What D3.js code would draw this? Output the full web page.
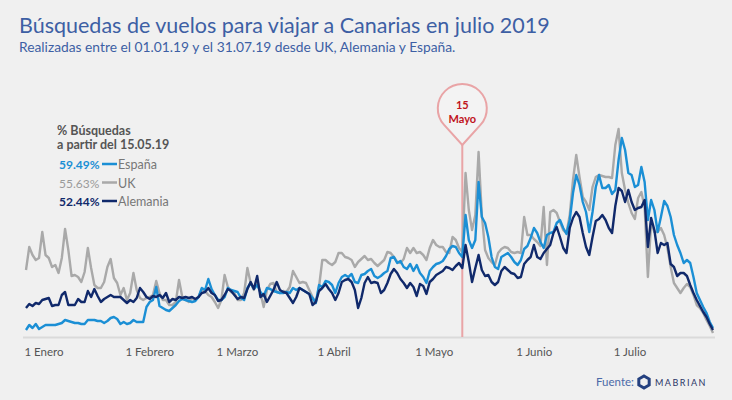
<!DOCTYPE html>
<html><head><meta charset="utf-8">
<script src="https://cdn.jsdelivr.net/npm/d3@7"></script>
<style>
html,body{margin:0;padding:0;background:#f0f0f0;}
svg{display:block;font-family:Lato, "Open Sans", sans-serif;}
</style></head><body>
<svg id="chart" width="732" height="400"></svg>
<script>
// ---------- DATA ----------
const startDate = "2019-01-01";
const endDate = "2019-07-31";
const monthTicks = ["2019-01-01","2019-02-01","2019-03-01","2019-04-01","2019-05-01","2019-06-01","2019-07-01"];
const monthLabels = ["1 Enero","1 Febrero","1 Marzo","1 Abril","1 Mayo","1 Junio","1 Julio"];

// Daily search index, 1 Jan – 31 Jul 2019
const uk = [
 67,90,82,77,79,105,82,79,70,72,
 64,79,108,87,61,62,60,55,65,89,
 69,52,49,49,55,70,78,59,54,42,
 49,37,44,64,47,39,37,39,40,42,
 56,44,37,37,32,32,35,57,40,37,
 35,39,37,40,48,46,42,40,35,29,
 37,62,50,45,44,37,37,44,69,54,
 47,57,44,30,47,53,54,45,44,46,
 45,50,66,60,54,55,54,47,40,34,
 50,77,77,74,72,75,84,84,80,79,
 77,70,75,78,81,77,78,74,71,74,
 77,85,84,80,75,74,78,89,84,89,
 84,85,82,77,89,97,92,90,90,85,
 84,100,97,89,85,164,127,107,122,185,
 122,87,79,75,72,84,88,90,89,85,
 84,85,84,120,102,102,98,95,91,130,
 72,125,127,124,115,107,104,122,157,182,
 160,140,135,127,150,160,162,161,160,160,
 159,192,208,164,147,134,124,118,139,145,
 130,60,114,105,105,109,102,89,70,54,
 49,44,49,53,50,42,32,29,24,17,11,4
];
const espana = [
 7,12,9,13,8,10,12,12,12,12,
 13,14,17,16,15,14,14,13,13,17,
 17,17,16,16,14,16,19,20,18,13,
 15,13,14,17,15,15,15,30,35,37,
 50,31,29,27,26,29,32,36,38,37,
 36,35,36,40,49,47,58,48,42,37,
 37,40,49,47,46,45,39,37,49,54,
 48,52,45,41,49,48,46,45,44,44,
 45,44,49,47,49,47,45,43,39,34,
 52,50,56,55,52,44,54,60,62,60,
 63,55,54,62,63,66,68,61,59,61,
 64,66,79,80,74,76,70,68,73,66,
 72,64,60,54,66,70,73,74,76,81,
 88,91,90,84,80,122,97,89,97,155,
 120,114,100,80,70,68,80,82,84,80,
 75,72,77,88,91,99,109,104,95,89,
 102,104,105,114,117,109,103,117,144,162,
 152,135,125,105,125,150,162,149,149,152,
 143,147,177,199,187,164,162,150,152,170,
 155,117,137,127,105,120,136,131,120,102,
 92,84,74,77,74,60,44,37,30,24,15,9
];
const alemania = [
 29,33,31,34,33,37,38,39,31,32,
 32,42,45,32,32,32,38,35,35,46,
 40,48,41,35,38,40,42,40,40,40,
 37,34,37,35,39,49,45,40,38,41,
 40,42,39,44,35,38,37,40,39,40,
 39,40,38,40,44,45,49,44,42,36,
 37,42,48,46,42,38,40,39,48,55,
 48,61,40,43,35,41,47,55,47,45,
 44,39,34,40,49,47,45,43,32,35,
 46,49,53,48,44,37,44,55,57,58,
 55,47,29,39,54,60,54,55,54,44,
 47,54,63,68,64,58,54,49,54,50,
 41,53,51,43,55,58,62,64,66,70,
 69,67,71,74,69,92,75,55,69,82,
 67,61,62,55,52,55,66,70,67,64,
 63,59,60,73,77,80,92,80,78,84,
 88,92,104,110,100,89,84,109,119,125,
 120,104,90,82,100,116,118,122,117,109,
 104,131,149,146,135,147,135,127,129,130,
 137,90,119,107,84,94,92,94,73,70,
 61,64,64,61,52,44,37,31,25,20,13,7
];
const seriesNames = ["España","UK","Alemania"];
const sharePct = ["59.49%","55.63%","52.44%"];
const markerDate = "2019-05-15";
const markerLabel = ["15","Mayo"];

// ---------- DRAW ----------
const colors = {"España":"#1b8fd5","UK":"#a9a9a9","Alemania":"#10296b"};
const parse = d3.timeParse("%Y-%m-%d");
const svg = d3.select("#chart");
svg.append("rect").attr("width",732).attr("height",400).attr("fill","#f0f0f0");

const x = d3.scaleTime().domain([parse(startDate), parse(endDate)]).range([26, 713]);
const y = d3.scaleLinear().domain([0, 220]).range([337, 117]);
const dateOf = i => d3.timeDay.offset(parse(startDate), i);

// title
svg.append("text").attr("x",19).attr("y",33).attr("fill","#3d5fa4")
  .style("font-size","21.5px").text("Búsquedas de vuelos para viajar a Canarias en julio 2019");
svg.append("text").attr("x",19).attr("y",52).attr("fill","#3d5fa4")
  .style("font-size","13.8px").text("Realizadas entre el 01.01.19 y el 31.07.19 desde UK, Alemania y España.");

// baseline
svg.append("line").attr("x1",23).attr("x2",715).attr("y1",337.5).attr("y2",337.5)
  .attr("stroke","#dadada").attr("stroke-width",2);

// marker line
const mx = x(parse(markerDate));
svg.append("line").attr("x1",mx).attr("x2",mx).attr("y1",145).attr("y2",337)
  .attr("stroke","#e9a4a6").attr("stroke-width",2);

// series
const line = d3.line().x((d,i)=>x(dateOf(i))).y(d=>y(d));
[["UK",uk],["España",espana],["Alemania",alemania]].forEach(([n,arr])=>{
  svg.append("path").datum(arr).attr("d",line).attr("fill","none")
    .attr("stroke",colors[n]).attr("stroke-width",2.4).attr("stroke-linejoin","round");
});

// pin
const r = 24.5, cy = 108.5, tipY = 145;
const D = tipY - cy, c = r/D, s = Math.sqrt(1-c*c);
const pinPath = `M${mx},${tipY} L${mx + r*s},${cy + r*c} A${r},${r} 0 1 0 ${mx - r*s},${cy + r*c} Z`;
svg.append("path").attr("d",pinPath).attr("fill","#f3f3f3").attr("stroke","#e9a4a6").attr("stroke-width",2);
svg.append("text").attr("x",mx).attr("y",109).attr("text-anchor","middle").attr("fill","#c0141c")
  .style("font-size","11px").style("font-weight","bold").text(markerLabel[0]);
svg.append("text").attr("x",mx).attr("y",123).attr("text-anchor","middle").attr("fill","#c0141c")
  .style("font-size","11px").style("font-weight","bold").text(markerLabel[1]);

// x axis
const ax = svg.append("g").attr("transform","translate(0,345)")
  .call(d3.axisBottom(x).tickValues(monthTicks.map(parse)).tickSize(0)
    .tickFormat((d,i)=>monthLabels[i]));
ax.select(".domain").remove();
ax.selectAll("text").attr("text-anchor","start").attr("dx",-2).attr("dy","0.71em")
  .attr("fill","#555").style("font-size","11.5px").style("font-family","Lato, sans-serif");

// legend
const lg = svg.append("g");
lg.append("text").attr("x",57).attr("y",135).attr("fill","#555").style("font-size","12.5px")
  .style("font-weight","bold").text("% Búsquedas");
lg.append("text").attr("x",57).attr("y",149).attr("fill","#555").style("font-size","12.5px")
  .style("font-weight","bold").text("a partir del 15.05.19");
const lgW = [true,false,true];
seriesNames.forEach((n,i)=>{
  const yy = 169 + i*18.5;
  lg.append("text").attr("x",59).attr("y",yy).attr("fill",colors[n]==="#a9a9a9"?"#9a9a9a":colors[n])
    .style("font-size","12px").style("font-weight",lgW[i]?"bold":"normal").text(sharePct[i]);
  lg.append("line").attr("x1",102).attr("x2",117).attr("y1",yy-5).attr("y2",yy-5)
    .attr("stroke",colors[n]).attr("stroke-width",2.5);
  lg.append("text").attr("x",118).attr("y",yy).attr("fill","#777").style("font-size","12.5px").text(n);
});

// footer
svg.append("text").attr("x",596).attr("y",386).attr("fill","#4b6aa8").style("font-size","11.5px").text("Fuente:");
const hx = 644, hy = 382, hr = 6;
const hex = d3.range(6).map(k=>{const a=Math.PI/3*k - Math.PI/2; return [hx+hr*Math.cos(a), hy+hr*Math.sin(a)];});
svg.append("path").attr("d","M"+hex.join("L")+"Z").attr("fill","none").attr("stroke","#24407f").attr("stroke-width",3);
svg.append("text").attr("x",655).attr("y",386).attr("fill","#2a3466").style("font-size","9px")
  .style("letter-spacing","1.5px").text("MABRIAN");
</script>
</body></html>
